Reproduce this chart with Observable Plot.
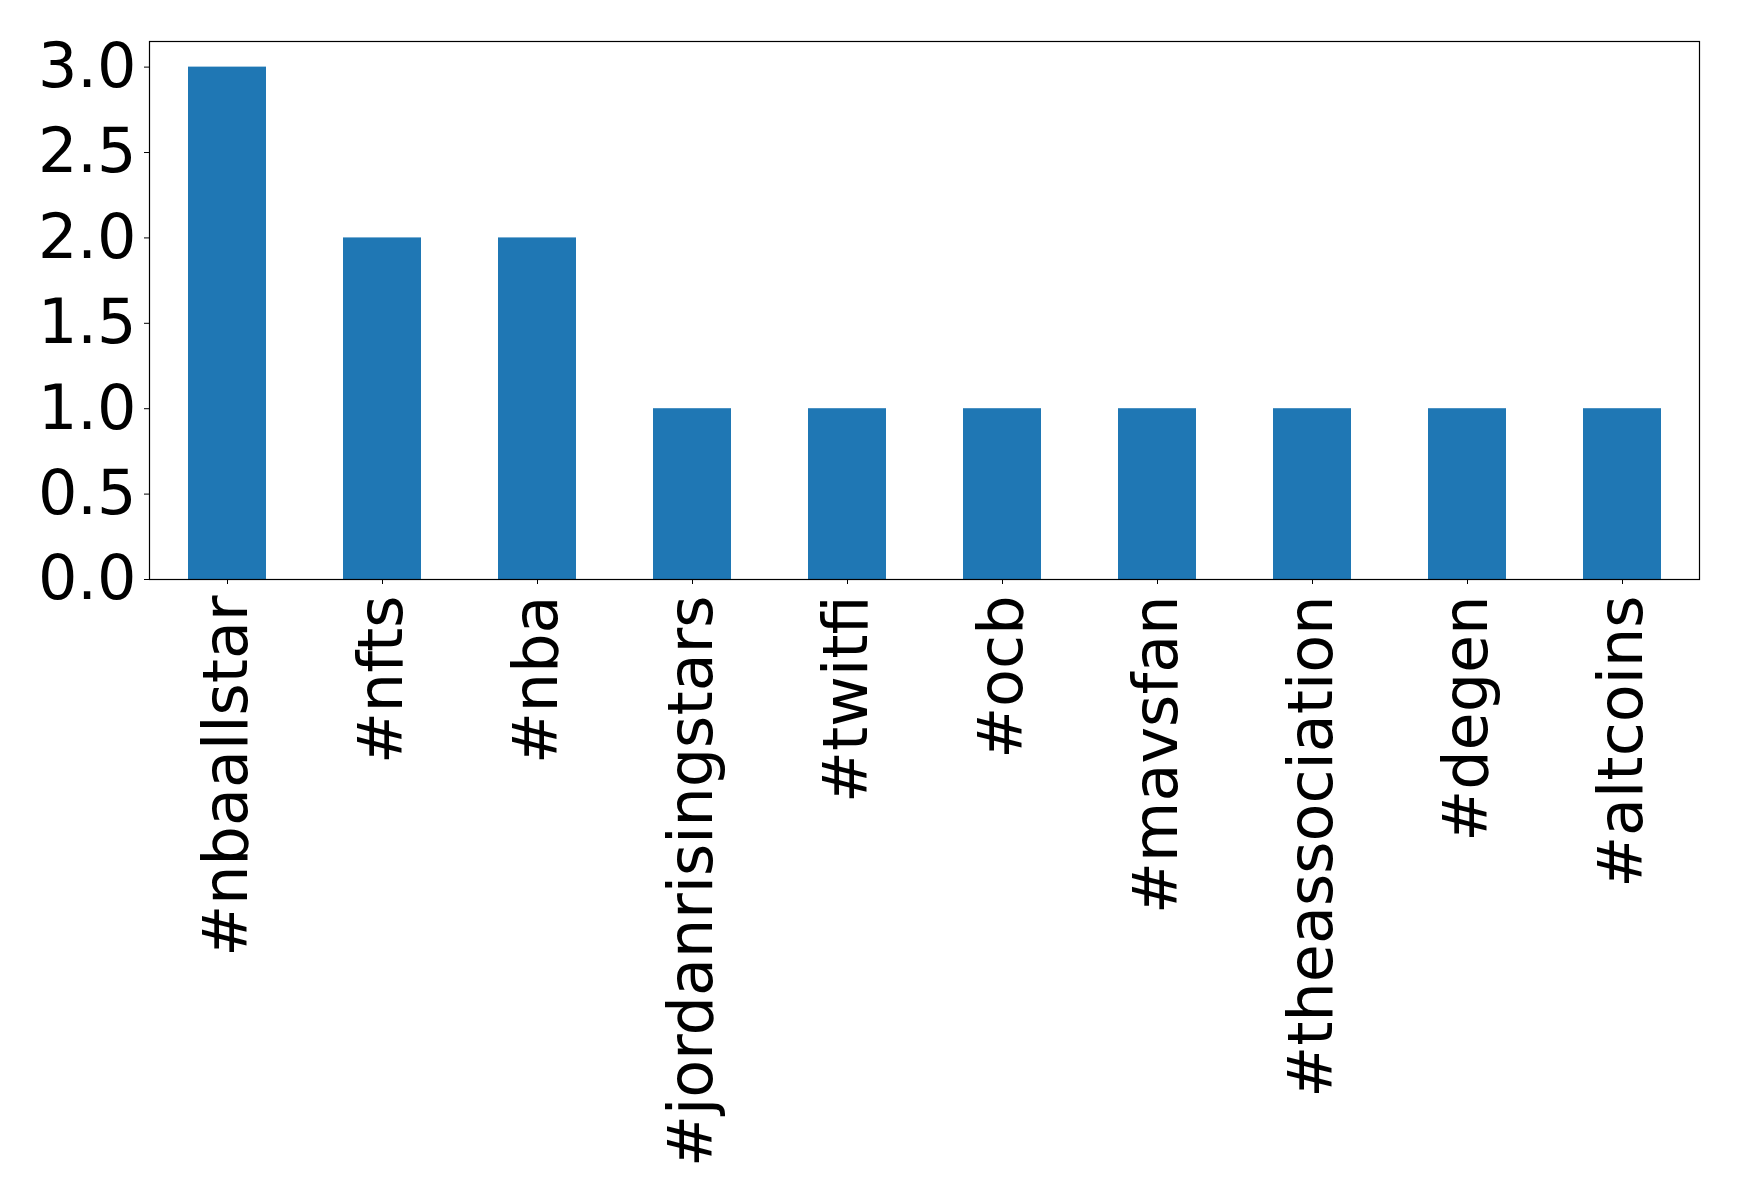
<!DOCTYPE html>
<html>
<head>
<meta charset="utf-8">
<script src="https://cdn.jsdelivr.net/npm/d3@7"></script>
<script src="https://cdn.jsdelivr.net/npm/@observablehq/plot@0.6"></script>
<style>
  html, body { margin: 0; padding: 0; background: #fff; }
</style>
</head>
<body>
<div id="chart"></div>
<script>
const hashtags = ["#nbaallstar", "#nfts", "#nba", "#jordanrisingstars", "#twitfi", "#ocb", "#mavsfan", "#theassociation", "#degen", "#altcoins"];
const counts = [3, 2, 2, 1, 1, 1, 1, 1, 1, 1];
const yTicks = [0, 0.5, 1.0, 1.5, 2.0, 2.5, 3.0];

const data = hashtags.map((h, i) => ({tag: h, count: counts[i]}));

const chart = Plot.plot({
  width: 1739,
  height: 1204,
  marginLeft: 149,
  marginRight: 40,
  marginTop: 41,
  marginBottom: 625,
  style: {fontFamily: "'DejaVu Sans', sans-serif", fontSize: "62px", background: "#fff", color: "#000"},
  x: {domain: hashtags, paddingInner: 0.5, paddingOuter: 0.25, label: null},
  y: {domain: [0, 3.15], label: null},
  marks: [
    Plot.barY(data, {x: "tag", y: "count", fill: "#1f77b4"}),
    Plot.frame({stroke: "#000", strokeWidth: 1.2}),
    Plot.axisY({ticks: yTicks, tickFormat: d3.format(".1f"), tickSize: 5, tickPadding: 8, fontSize: 62, label: null}),
    Plot.axisX({tickRotate: -90, tickSize: 5, tickPadding: 11, fontSize: 62, label: null})
  ]
});
document.getElementById("chart").appendChild(chart);
</script>
</body>
</html>
